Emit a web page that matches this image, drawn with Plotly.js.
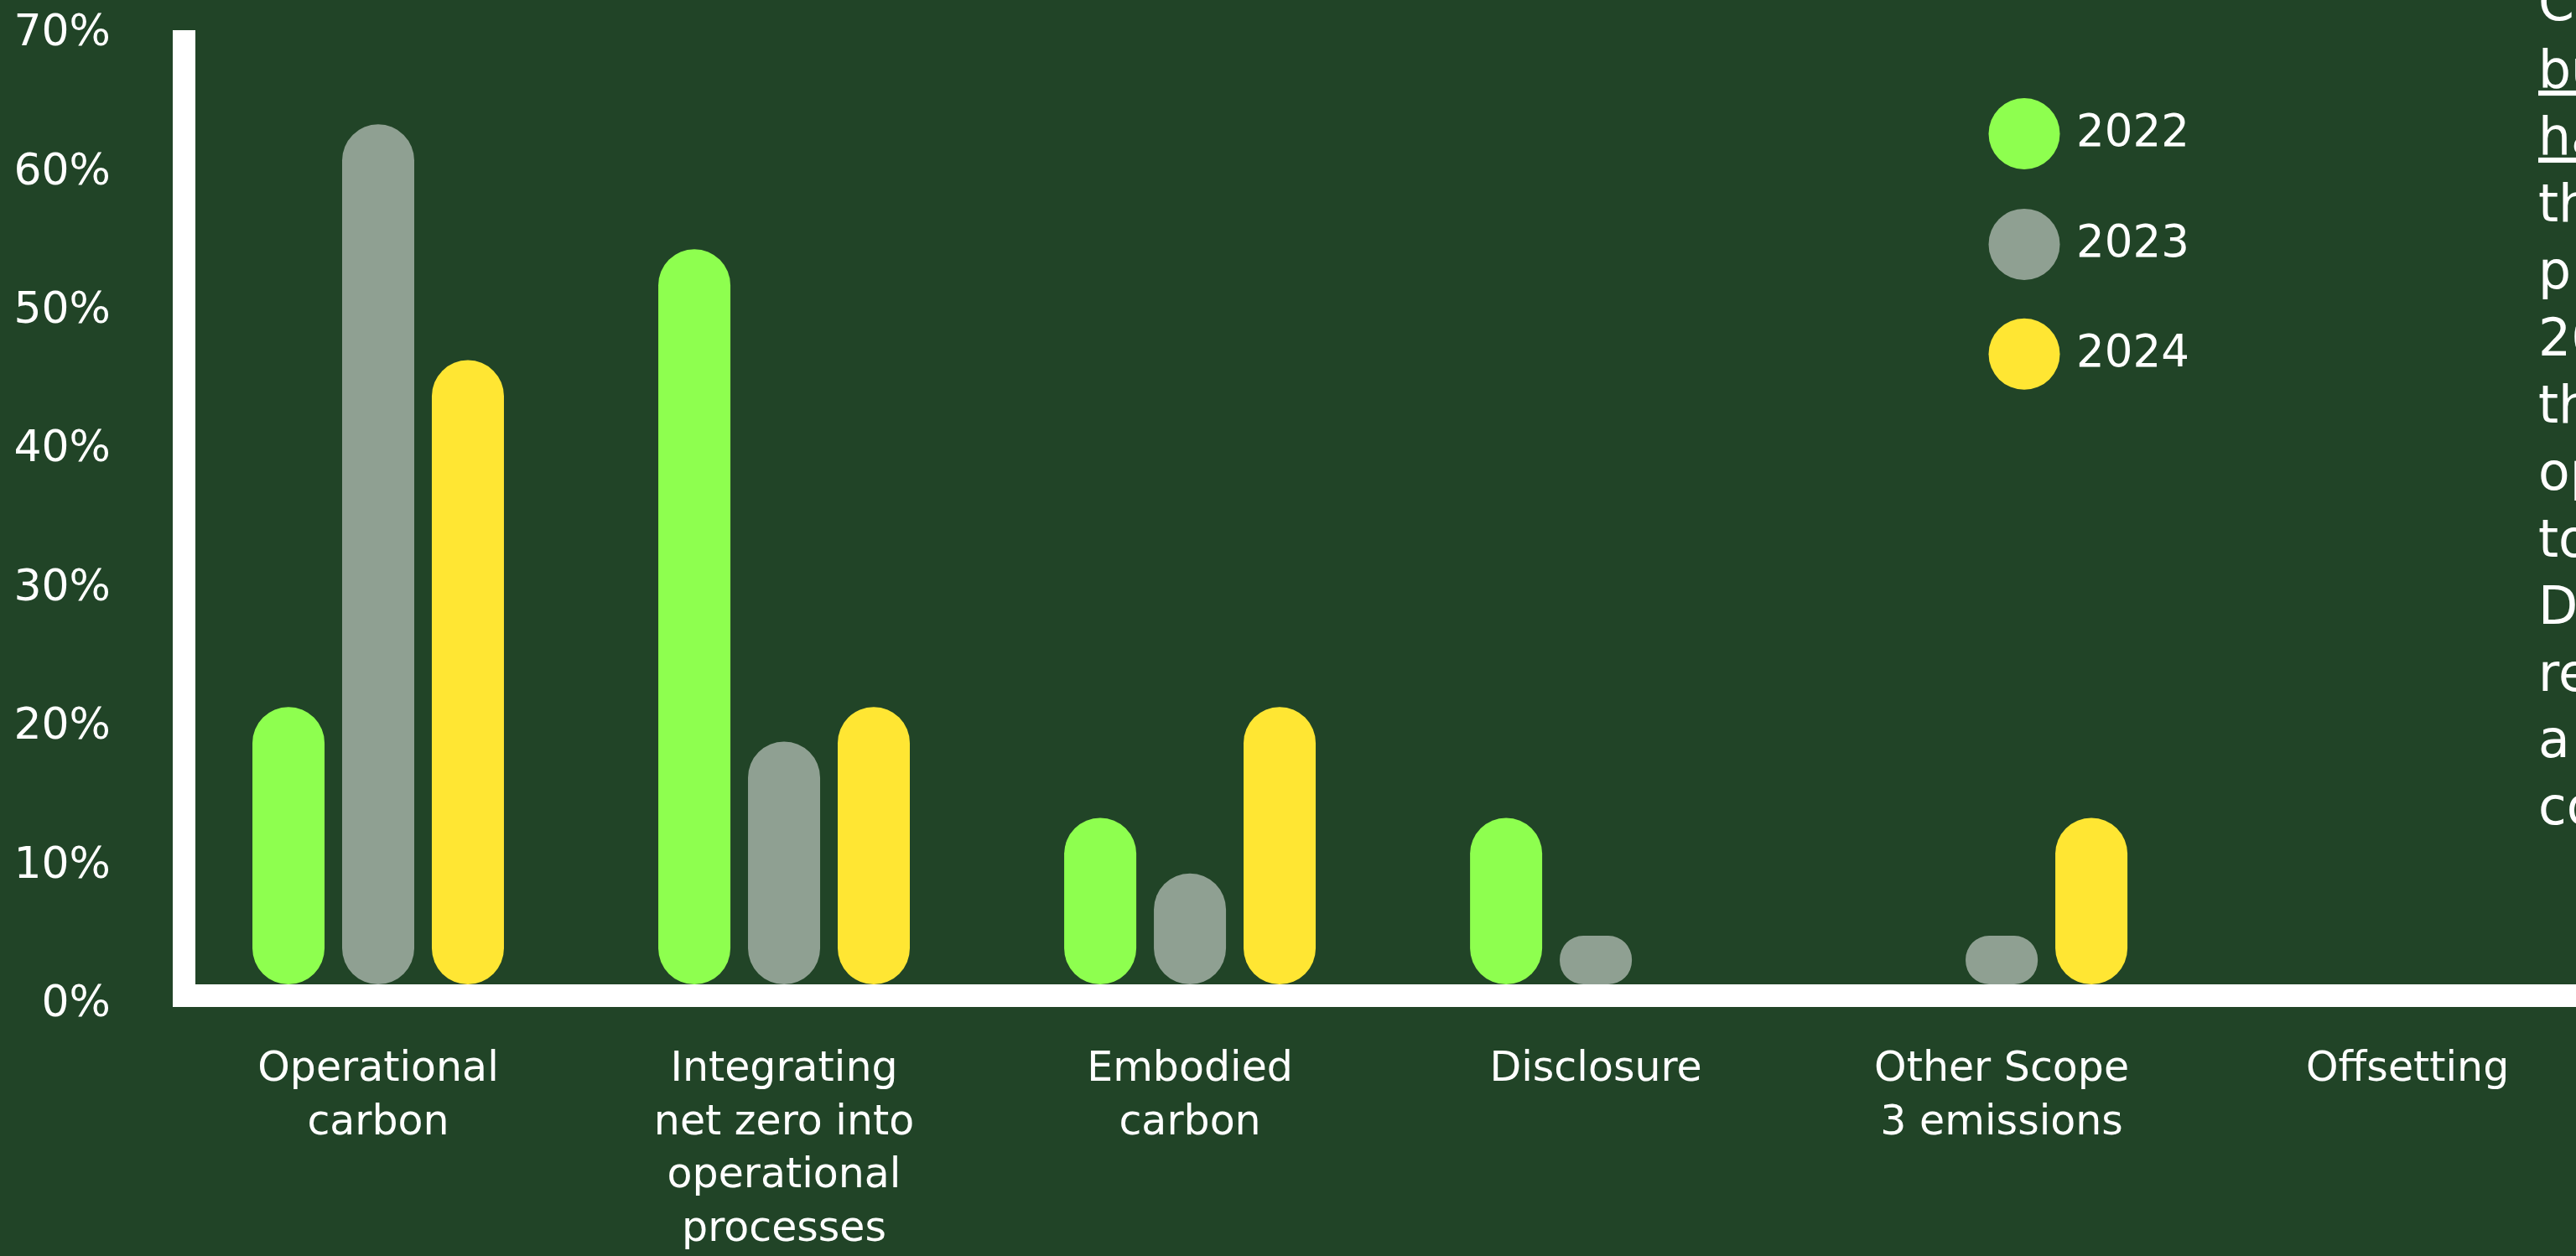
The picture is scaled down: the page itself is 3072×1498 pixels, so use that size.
<!DOCTYPE html>
<html>
<head>
<meta charset="utf-8">
<script src="https://cdn.plot.ly/plotly-3.0.1.min.js"></script>
<style>
  html, body { margin: 0; padding: 0; overflow: hidden; background: #214427; }
  #chart { width: 3072px; height: 1498px; }
</style>
</head>
<body>
<div id="chart"></div>
<script>
// ---- data ----
const categories = ["Operational carbon", "Integrating net zero into operational processes", "Embodied carbon", "Disclosure", "Other Scope 3 emissions", "Offsetting"];
const categoryLabels = ["Operational<br>carbon", "Integrating<br>net zero into<br>operational<br>processes", "Embodied<br>carbon", "Disclosure", "Other Scope<br>3 emissions", "Offsetting"];
const years = ["2022", "2023", "2024"];
const values2022 = [20, 53, 12, 12, 0, 0];
const values2023 = [62, 17.5, 8, 3.5, 3.5, 0];
const values2024 = [45, 20, 20, 0, 12, 0];
const seriesColors = ["#8EFF4F", "#8FA092", "#FFE633"];
const yTickValues = [0, 10, 20, 30, 40, 50, 60, 70];
const yTickLabels = ["0%", "10%", "20%", "30%", "40%", "50%", "60%", "70%"];
const sideTextLines = ["Ca", "<u>bu</u>", "<u>ha</u>", "th", "p", "20", "th", "op", "to", "D", "re", "a", "co"];

// ---- build ----
const FONT = "DejaVu Sans, Open Sans, sans-serif";
const BG = "#214427";
const allSeries = [values2022, values2023, values2024];

const W = 3072, H = 1498;
const M = { l: 233, r: 0, t: 15.5, b: 324 };
const plotW = W - M.l - M.r, plotH = H - M.t - M.b;
const px2paperX = px => (px - M.l) / plotW;
const px2paperY = py => (H - M.b - py) / plotH;

const traces = allSeries.map((series, i) => ({
  type: "bar", name: years[i], x: categories, y: series,
  base: series.map(() => 0),
  offsetgroup: years[i], showlegend: false, hoverinfo: "skip",
  marker: { color: seriesColors[i], cornerradius: "50%", line: { width: 0 } }
}));

const shapes = [];
// y axis bar (white)
shapes.push({
  type: "rect", xref: "paper", yref: "paper",
  xsizemode: "pixel", xanchor: 0, x0: -27, x1: 0,
  ysizemode: "pixel", yanchor: 0, y0: -27, y1: 1138,
  fillcolor: "#FFFFFF", line: { width: 0 }, layer: "below"
});

const annotations = [];
// legend swatches + labels
const legendCentersY = [159, 291, 422];
years.forEach((yr, i) => {
  shapes.push({
    type: "circle", xref: "paper", yref: "paper",
    xsizemode: "pixel", xanchor: px2paperX(2414), x0: -42.5, x1: 42.5,
    ysizemode: "pixel", yanchor: px2paperY(legendCentersY[i]), y0: -42.5, y1: 42.5,
    fillcolor: seriesColors[i], line: { width: 0 }
  });
  annotations.push({
    xref: "paper", yref: "paper", x: px2paperX(2474), y: px2paperY(legendCentersY[i] - 4),
    xanchor: "left", yanchor: "middle", showarrow: false, text: yr,
    font: { family: FONT, size: 53, color: "#FFFFFF" }
  });
});
// clipped side paragraph on the right edge
annotations.push({
  xref: "paper", yref: "paper", x: px2paperX(3025), y: px2paperY(-36),
  xanchor: "left", yanchor: "top", align: "left", showarrow: false,
  text: sideTextLines.join("<br>"),
  font: { family: FONT, size: 61.5, color: "#FFFFFF" }
});

const layout = {
  width: W, height: H,
  margin: M,
  paper_bgcolor: BG, plot_bgcolor: BG,
  barmode: "group", bargap: 0.337, bargroupgap: 0.196,
  showlegend: false,
  font: { family: FONT, color: "#FFFFFF" },
  xaxis: {
    type: "category", range: [-0.4504, 5.415],
    tickmode: "array", tickvals: categories, ticktext: categoryLabels,
    tickfont: { family: FONT, size: 49, color: "#FFFFFF" },
    ticks: "", showgrid: false, zeroline: false,
    showline: true, linecolor: "#FFFFFF", linewidth: 27,
    ticklabelstandoff: 29
  },
  yaxis: {
    range: [0, 70],
    tickmode: "array", tickvals: yTickValues, ticktext: yTickLabels,
    tickfont: { family: FONT, size: 52, color: "#FFFFFF" },
    ticks: "", showgrid: false, zeroline: false, showline: false,
    ticklabelstandoff: 100, ticklabelshift: 20
  },
  shapes: shapes,
  annotations: annotations
};

Plotly.newPlot("chart", traces, layout, { staticPlot: true, displayModeBar: false });
</script>
</body>
</html>
